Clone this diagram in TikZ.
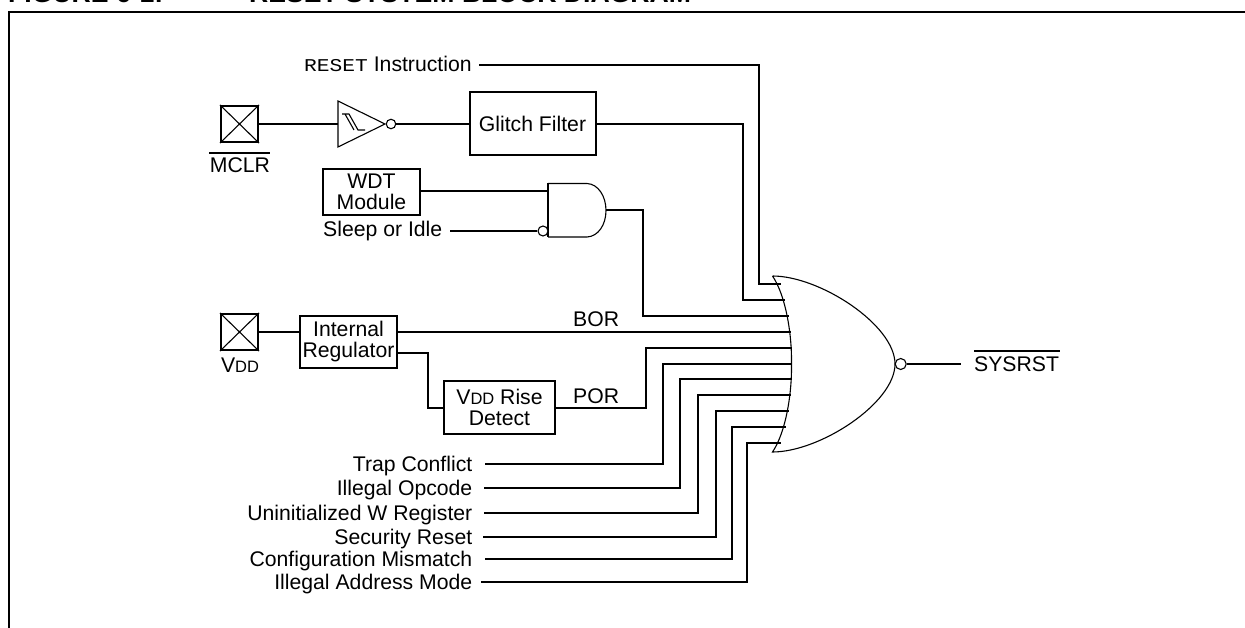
\documentclass[tikz,border=0pt]{standalone}
\usepackage{fontspec}
\setmainfont{Liberation Sans}
\newfontfamily\resetfont[FakeStretch=1.18]{Liberation Mono}
\newcommand{\vdd}{V{\fontsize{16.5}{18}\selectfont DD}}
\tikzset{
  wire/.style={line width=2pt,line cap=butt,line join=miter},
  thinline/.style={line width=1.1pt},
  blockbox/.style={draw,line width=2pt,inner sep=0pt,align=center,font=\fontsize{21.2}{21}\selectfont,fill=white},
  padbox/.style={draw,line width=2pt,inner sep=0pt,minimum width=37pt,minimum height=36pt},
  lbl/.style={inner sep=0pt,anchor=base east,font=\fontsize{21.2}{21}\selectfont},
  lblw/.style={inner sep=0pt,anchor=base west,font=\fontsize{21.2}{21}\selectfont},
  lblc/.style={inner sep=0pt,anchor=base,font=\fontsize{21.2}{21}\selectfont},
  titlelbl/.style={inner sep=0pt,anchor=base west,font=\bfseries\fontsize{26.6}{28}\selectfont},
  bubble/.style={draw,circle,line width=1.1pt,fill=white,inner sep=0pt,minimum size=#1},
}
\begin{document}
\begin{tikzpicture}[x=1pt,y=-1pt]
\useasboundingbox (0,0) rectangle (1245,628);
\clip (0,0) rectangle (1245,628);
% title and frame
\node[titlelbl] (figno) at (8,3) {FIGURE 6-1:};
\node[titlelbl] (figtitle) at (249,3) {RESET SYSTEM BLOCK DIAGRAM};
\coordinate (fa) at (9,640); \coordinate (fb) at (9,12); \coordinate (fc) at (1260,12);
\draw[wire] (fa) -- (fb) -- (fc);
% pads
\node[padbox] (mclrpad) at (239.5,124) {};
\draw[thinline] (mclrpad.north west) -- (mclrpad.south east) (mclrpad.north east) -- (mclrpad.south west);
\node[lblc] (mclrtxt) at (240,173) {MCLR};
\coordinate (ma) at (209,153); \coordinate (mb) at (270,153);
\draw[wire] (ma) -- (mb);
\node[padbox] (vddpad) at (239.5,332) {};
\draw[thinline] (vddpad.north west) -- (vddpad.south east) (vddpad.north east) -- (vddpad.south west);
\node[lblc] (vddtxt) at (240,372) {\vdd};
% boxes
\node[blockbox,minimum width=126pt,minimum height=63pt] (glitch) at (532.5,123.5) {Glitch Filter};
\node[blockbox,minimum width=97pt,minimum height=46pt] (wdt) at (371.5,192) {WDT\\Module};
\node[blockbox,minimum width=97pt,minimum height=52pt] (reg) at (348.5,342) {Internal\\Regulator};
\node[blockbox,minimum width=111pt,minimum height=53pt] (rise) at (499.5,407.5) {\vdd{} Rise\\Detect};
% schmitt inverter
\coordinate (st) at (338,101); \coordinate (sb) at (338,147); \coordinate (sa) at (385,124);
\coordinate (sin) at (338,124);
\draw[thinline,line join=miter] (st) -- (sa) -- (sb) -- cycle;
\coordinate (h1) at (342,114); \coordinate (h2) at (349,114); \coordinate (h3) at (358,130);
\coordinate (h4) at (365,130); \coordinate (h5) at (345,114); \coordinate (h6) at (354,130);
\draw[thinline] (h1) -- (h2) -- (h3) -- (h4) (h5) -- (h6);
\node[bubble=9.5pt] (sbub) at (391,124) {};
\draw[wire] (mclrpad.east) -- (sin);
\draw[wire] (sbub.east) -- (sbub.east -| glitch.west);
% and gate
\coordinate (an) at (548,183.5); \coordinate (as) at (548,237); \coordinate (ae) at (606,210.5);
\draw[wire] (as) -- (an);
\draw[thinline] (an) -- (587,183.5) .. controls (598,184) and (606,196) .. (ae) .. controls (606,225) and (598,236.5) .. (587,237) -- (as);
\node[bubble=10pt] (abub) at (543,231) {};
\draw[wire] (wdt.east |- 0,191) -- (548,191);
% text labels
\node[lblw] (rsttxt) at (304,71.5) {{\resetfont\fontsize{18}{20}\selectfont RESET} Instruction};
\node[lblw] (sleep) at (323,237) {Sleep or Idle};
\node[lblw] (bor) at (573,326.5) {BOR};
\node[lblw] (por) at (573,403) {POR};
\node[lblw] (sys) at (974,371) {SYSRST};
\coordinate (sa1) at (974,351); \coordinate (sa2) at (1060,351);
\draw[wire] (sa1) -- (sa2);
\node[lbl] (t1) at (472.5,471.5) {Trap Conflict};
\node[lbl] (t2) at (472.5,495.5) {Illegal Opcode};
\node[lbl] (t3) at (472.5,520.5) {Uninitialized W Register};
\node[lbl] (t4) at (472.5,544) {Security Reset};
\node[lbl] (t5) at (472.5,566.5) {Configuration Mismatch};
\node[lbl] (t6) at (472.5,589.5) {Illegal Address Mode};
% OR-gate pins
\coordinate (p1) at (780.5,284);
\coordinate (p2) at (785,300);
\coordinate (p3) at (788.5,316);
\coordinate (p4) at (790.5,332);
\coordinate (p5) at (791.5,348);
\coordinate (p6) at (791.5,364);
\coordinate (p7) at (791.5,379);
\coordinate (p8) at (790.5,395);
\coordinate (p9) at (788.5,411);
\coordinate (p10) at (786,427);
\coordinate (p11) at (781,443);
% wire starts
\coordinate (w0) at (479,65);
\coordinate (w1) at (485,464);
\coordinate (w2) at (484,488);
\coordinate (w3) at (484,513);
\coordinate (w4) at (483,537);
\coordinate (w5) at (485,559);
\coordinate (w6) at (481,582);
\coordinate (s0) at (450,231);
% wires
\draw[wire] (w0) -- (759,65) |- (p1);
\draw[wire] (glitch.east |- 0,124) -- (743,124) |- (p2);
\draw[wire] (ae) -- (643,210.5) |- (p3);
\draw[wire] (reg.east |- 0,332) -- (p4);
\draw[wire] (rise.east |- 0,408) -- (646,408) |- (p5);
\draw[wire] (w1) -- (663,464) |- (p6);
\draw[wire] (w2) -- (680,488) |- (p7);
\draw[wire] (w3) -- (698,513) |- (p8);
\draw[wire] (w4) -- (716,537) |- (p9);
\draw[wire] (w5) -- (732,559) |- (p10);
\draw[wire] (w6) -- (747,582) |- (p11);
\draw[wire] (s0) -- (abub.west);
\draw[wire] (vddpad.east) -- (reg.west |- 0,332);
\draw[wire] (reg.east |- 0,353) -- (428,353) |- (rise.west |- 0,408);
% or gate
\coordinate (ot) at (772.5,276); \coordinate (ob) at (772.5,452); \coordinate (oa) at (895,364); \coordinate (om) at (791.5,364);
\draw[thinline] (ot) .. controls (786,296) and (792,335) .. (om) .. controls (792,393) and (786,432) .. (ob)
  .. controls (820,452) and (895,403) .. (oa) .. controls (895,325) and (820,276) .. (ot);
\node[bubble=11pt] (obub) at (900.7,364) {};
\coordinate (oe) at (961,364);
\draw[wire] (obub.east) -- (oe);
\end{tikzpicture}
\end{document}
